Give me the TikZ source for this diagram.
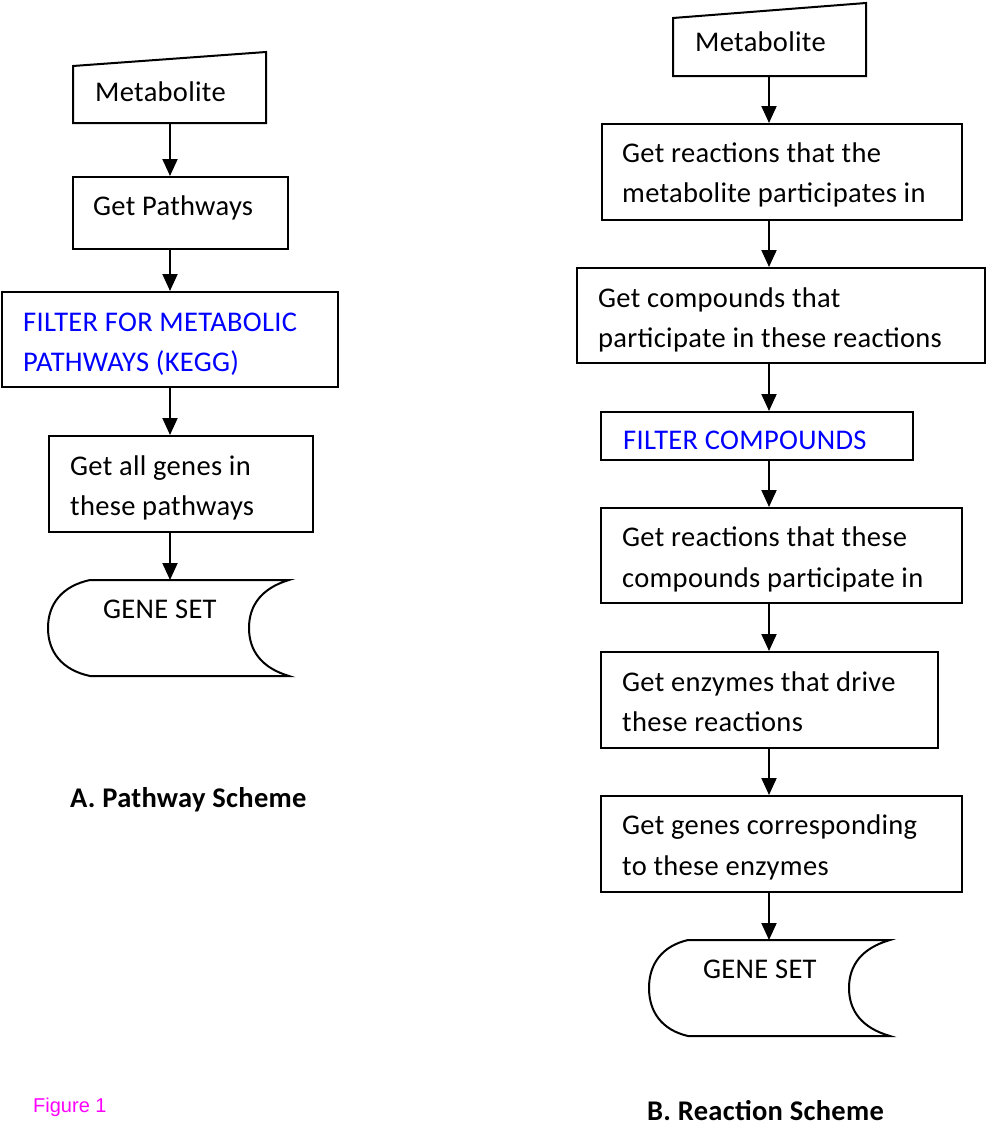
\documentclass[tikz,border=0pt]{standalone}
\usepackage{fontspec}
\setmainfont{Carlito}[LetterSpace=1.1]
\newfontfamily\figfont{Liberation Sans}
\usetikzlibrary{arrows.meta}
\definecolor{fblue}{RGB}{0,0,255}
\definecolor{fmag}{RGB}{255,0,255}
\begin{document}
\begin{tikzpicture}[x=1pt,y=-1pt,
  boxshape/.style={draw,line width=2pt,inner sep=0,minimum width=#1},
  ghost/.style={inner sep=0,outer sep=0},
  txt/.style={anchor=base west,inner sep=0,font=\fontsize{28.5}{40}\selectfont},
  bluetxt/.style={txt,text=fblue},
  arr/.style={line width=2pt,-{Triangle[width=15pt,length=17pt]}},
  outline/.style={line width=2pt,line join=miter}]
\useasboundingbox (0,0) rectangle (986,1124);
\coordinate (ax) at (170,0);
\coordinate (bx) at (769,0);

% ---------------- Left column ----------------
\node[ghost,minimum width=193pt,minimum height=71pt] (lm) at (169.5,87.5) {};
\draw[outline] (lm.south west) -- (lm.south east) -- (266,52) -- (73,66) -- cycle;
\node[txt] (lmt) at (95,101) {Metabolite};

\node[boxshape=215pt,minimum height=72pt] (lgp) at (180.5,213) {};
\node[txt] (lgpt) at (93,215) {Get Pathways};

\node[boxshape=336pt,minimum height=95pt] (lf) at (170,339.5) {};
\node[bluetxt] (lft1) at (23,331) {FILTER FOR METABOLIC};
\node[bluetxt] (lft2) at (23,371) {PATHWAYS (KEGG)};

\node[boxshape=264pt,minimum height=96pt] (lg) at (181,484) {};
\node[txt] (lgt1) at (70,475) {Get all genes in};
\node[txt] (lgt2) at (70,515) {these pathways};

\node[ghost,minimum width=241pt,minimum height=96pt] (lgs) at (168.5,628) {};
\draw[outline] (90,580) -- (289,580) .. controls (262,588) and (249,605) .. (249,628)
  .. controls (249,651) and (262,668) .. (289,676) -- (90,676)
  .. controls (62,670) and (48,652) .. (48,628)
  .. controls (48,604) and (62,586) .. (90,580) -- cycle;
\node[txt] (lgst) at (103,618) {GENE SET};

\draw[arr] (lm.south -| ax) -- (lgp.north -| ax);
\draw[arr] (lgp.south -| ax) -- (lf.north -| ax);
\draw[arr] (lf.south -| ax) -- (lg.north -| ax);
\draw[arr] (lg.south -| ax) -- (lgs.north -| ax);

\node[txt,font=\fontsize{28.5}{40}\selectfont\bfseries] (la) at (70,807) {A. Pathway Scheme};

% ---------------- Right column ----------------
\node[ghost,minimum width=193pt,minimum height=73pt] (rm) at (769.5,39.5) {};
\draw[outline] (rm.south west) -- (rm.south east) -- (866,3) -- (673,18) -- cycle;
\node[txt] (rmt) at (695,52) {Metabolite};

\node[boxshape=360pt,minimum height=96pt] (r1) at (782,172) {};
\node[txt] (r1a) at (622,162) {Get reactions that the};
\node[txt] (r1b) at (622,202) {metabolite participates in};

\node[boxshape=408pt,minimum height=95pt] (r2) at (781,315.5) {};
\node[txt] (r2a) at (598,307) {Get compounds that};
\node[txt] (r2b) at (598,347) {participate in these reactions};

\node[boxshape=312pt,minimum height=48pt] (r3) at (757,436) {};
\node[bluetxt] (r3a) at (623,449) {FILTER COMPOUNDS};

\node[boxshape=361pt,minimum height=95pt] (r4) at (781.5,555.5) {};
\node[txt] (r4a) at (622,546) {Get reactions that these};
\node[txt] (r4b) at (622,587) {compounds participate in};

\node[boxshape=337pt,minimum height=96pt] (r5) at (769.5,700) {};
\node[txt] (r5a) at (622,691) {Get enzymes that drive};
\node[txt] (r5b) at (622,731) {these reactions};

\node[boxshape=361pt,minimum height=96pt] (r6) at (781.5,844) {};
\node[txt] (r6a) at (622,834) {Get genes corresponding};
\node[txt] (r6b) at (622,875) {to these enzymes};

\node[ghost,minimum width=241pt,minimum height=96pt] (rgs) at (769.5,988) {};
\draw[outline] (688,940) -- (890,940) .. controls (862,948) and (849,965) .. (849,988)
  .. controls (849,1011) and (862,1028) .. (890,1036) -- (688,1036)
  .. controls (662,1030) and (649,1012) .. (649,988)
  .. controls (649,964) and (662,946) .. (688,940) -- cycle;
\node[txt] (rgst) at (703,978) {GENE SET};

\draw[arr] (rm.south -| bx) -- (r1.north -| bx);
\draw[arr] (r1.south -| bx) -- (r2.north -| bx);
\draw[arr] (r2.south -| bx) -- (r3.north -| bx);
\draw[arr] (r3.south -| bx) -- (r4.north -| bx);
\draw[arr] (r4.south -| bx) -- (r5.north -| bx);
\draw[arr] (r5.south -| bx) -- (r6.north -| bx);
\draw[arr] (r6.south -| bx) -- (rgs.north -| bx);

\node[txt,font=\fontsize{28.5}{40}\selectfont\bfseries] (rb) at (647,1120) {B. Reaction Scheme};

\node[anchor=base west,inner sep=0,text=fmag,font=\figfont\fontsize{20}{24}\selectfont] (fig) at (33,1112) {Figure 1};
\end{tikzpicture}
\end{document}
